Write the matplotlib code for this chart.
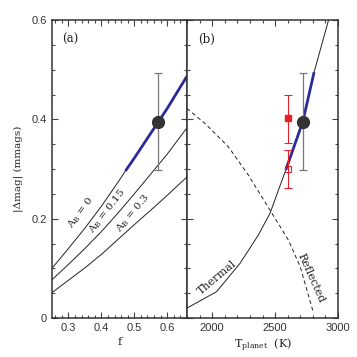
import matplotlib
matplotlib.use("Agg")
import matplotlib.pyplot as plt
from matplotlib.ticker import MultipleLocator, FixedLocator

# ---------------- data ----------------
# panel (a): |dmag| vs f for three Bond albedos
f_a0 = [0.25, 0.30, 0.35, 0.40, 0.45, 0.473, 0.50, 0.55, 0.572, 0.60, 0.66]
v_a0 = [0.100, 0.140, 0.181, 0.225, 0.273, 0.296, 0.322, 0.372, 0.394, 0.422, 0.487]
f_a15 = [0.25, 0.30, 0.35, 0.40, 0.45, 0.50, 0.56, 0.60, 0.66]
v_a15 = [0.077, 0.108, 0.140, 0.174, 0.211, 0.250, 0.298, 0.330, 0.383]
f_a3 = [0.25, 0.30, 0.35, 0.40, 0.45, 0.50, 0.56, 0.60, 0.66]
v_a3 = [0.051, 0.076, 0.101, 0.128, 0.158, 0.188, 0.223, 0.247, 0.284]
f_blue = [0.473, 0.50, 0.55, 0.572, 0.60, 0.66]
v_blue = [0.296, 0.322, 0.372, 0.394, 0.422, 0.487]
f_meas, v_meas, e_meas = 0.572, 0.395, 0.098
albedo_labels = ["0", "0.15", "0.3"]

# panel (b): |dmag| vs T_planet
T_therm = [1800, 1900, 2035, 2221, 2367, 2460, 2585, 2720, 2810, 2925]
v_therm = [0.020, 0.034, 0.053, 0.110, 0.167, 0.211, 0.298, 0.395, 0.495, 0.600]
T_blue = [2585, 2720, 2810]
v_blue_b = [0.298, 0.395, 0.495]
T_refl = [1800, 1950, 2128, 2287, 2460, 2606, 2700, 2806]
v_refl = [0.422, 0.390, 0.345, 0.288, 0.217, 0.157, 0.103, 0.0095]
T_meas = 2720
T_red = 2600
v_red_fill, e_red_fill_lo, e_red_fill_hi = 0.402, 0.049, 0.048
v_red_open, e_red_open_lo, e_red_open_hi = 0.299, 0.038, 0.039

plt.rcParams['mathtext.fontset'] = 'dejavuserif'
SERIF = 'DejaVu Serif'
SANS = 'Liberation Sans'
TXT = '#222222'
BLUE = '#2b2b9c'

fig = plt.figure(figsize=(3.57, 3.57), dpi=100)
ax1 = fig.add_axes([52/357, 39/357, 135/357, 298/357])
ax2 = fig.add_axes([187/357, 39/357, 151/357, 298/357])

for ax in (ax1, ax2):
    for s in ax.spines.values():
        s.set_linewidth(1.1)
        s.set_color('#333333')
    ax.tick_params(which='both', direction='in', top=True, right=True,
                   color='#444444', labelsize=8, labelcolor='#333333', width=0.8)
    ax.tick_params(which='major', length=4.5)
    ax.tick_params(which='minor', length=2.2)
    ax.set_ylim(0, 0.6)
    ax.yaxis.set_major_locator(FixedLocator([0, 0.2, 0.4, 0.6]))
    ax.yaxis.set_minor_locator(MultipleLocator(0.05))

# ---- panel (a)
ax1.set_xlim(0.25, 0.66)
ax1.xaxis.set_major_locator(FixedLocator([0.3, 0.4, 0.5, 0.6]))
ax1.xaxis.set_minor_locator(MultipleLocator(0.02))
ax1.set_xticklabels(['0.3', '0.4', '0.5', '0.6'], fontfamily=SANS)
ax1.set_yticklabels(['0', '0.2', '0.4', '0.6'], fontfamily=SANS)
ax1.plot(f_a0, v_a0, color='#222222', lw=0.7)
ax1.plot(f_a15, v_a15, color='#222222', lw=0.7)
ax1.plot(f_a3, v_a3, color='#222222', lw=0.7)
ax1.plot(f_blue, v_blue, color=BLUE, lw=2.0, solid_capstyle='butt')
ax1.errorbar([f_meas], [v_meas], yerr=[e_meas], fmt='o', color='#333333',
             ms=8.5, ecolor='#777777', elinewidth=0.9, capsize=3, capthick=0.9)
ax1.text(0.133, 0.935, '(a)', transform=ax1.transAxes, ha='center', va='center',
         fontsize=8.5, fontfamily=SERIF, color=TXT)
lab_pos = [(0.338, 0.212, 53), (0.418, 0.214, 52), (0.497, 0.211, 50)]
for (x, y, r), a in zip(lab_pos, albedo_labels):
    ax1.text(x, y, r'A$_{\rm B}$ = ' + a, rotation=r, ha='center', va='center',
             fontsize=7.5, fontfamily=SERIF, color=TXT, rotation_mode='anchor')
ax1.set_xlabel('f', fontfamily=SERIF, fontsize=8, color=TXT, labelpad=3)
ax1.set_ylabel('|Δmag| (mmags)', fontfamily=SERIF, fontsize=7.5, color=TXT, labelpad=6)

# ---- panel (b)
ax2.set_xlim(1800, 3000)
ax2.xaxis.set_major_locator(FixedLocator([2000, 2500, 3000]))
ax2.xaxis.set_minor_locator(MultipleLocator(100))
ax2.set_xticklabels(['2000', '2500', '3000'], fontfamily=SANS)
ax2.tick_params(axis='y', labelleft=False)
ax2.plot(T_therm, v_therm, color='#222222', lw=0.7)
ax2.plot(T_refl, v_refl, color='#222222', lw=0.7, ls=(0, (4, 3)))
ax2.plot(T_blue, v_blue_b, color=BLUE, lw=2.0, solid_capstyle='butt')
ax2.errorbar([T_red], [v_red_fill], yerr=[[e_red_fill_lo], [e_red_fill_hi]], fmt='s',
             color='#e8202a', ms=4, elinewidth=0.8, capsize=3, capthick=0.8)
ax2.errorbar([T_red], [v_red_open], yerr=[[e_red_open_lo], [e_red_open_hi]], fmt='s',
             color='#e8202a', mfc='none', ms=5, mew=0.8, elinewidth=0.8, capsize=3, capthick=0.8)
ax2.errorbar([T_meas], [v_meas], yerr=[e_meas], fmt='o', color='#333333',
             ms=8.5, ecolor='#777777', elinewidth=0.9, capsize=3, capthick=0.9)
ax2.text(0.13, 0.935, '(b)', transform=ax2.transAxes, ha='center', va='center',
         fontsize=8.5, fontfamily=SERIF, color=TXT)
ax2.text(2035, 0.082, 'Thermal', rotation=40, ha='center', va='center',
         fontsize=8, fontfamily=SERIF, color=TXT, rotation_mode='anchor')
ax2.text(2782, 0.080, 'Reflected', rotation=-66, ha='center', va='center',
         fontsize=8, fontfamily=SERIF, color=TXT, rotation_mode='anchor')
ax2.set_xlabel(r'T$_{\rm planet}$  (K)', fontfamily=SERIF, fontsize=8, color=TXT, labelpad=3)

fig.savefig('out.png', dpi=100)
